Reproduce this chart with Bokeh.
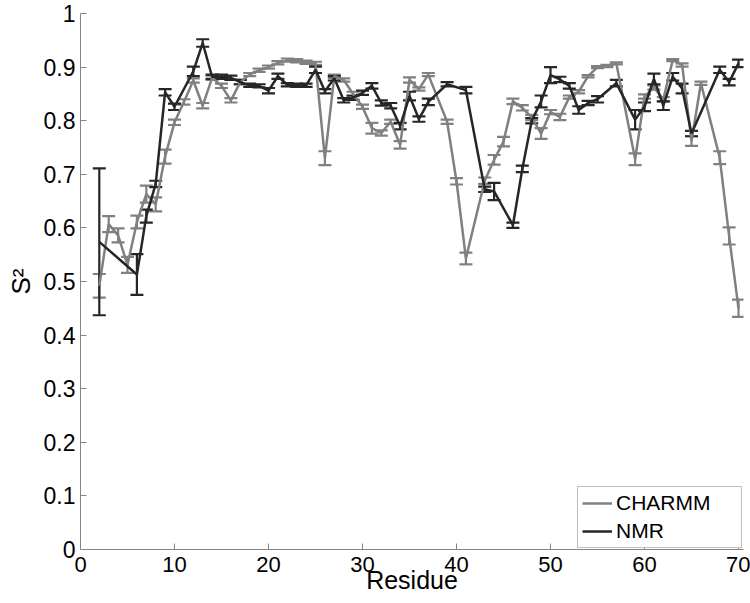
from bokeh.plotting import figure
from bokeh.models import (Range1d, FixedTicker, CustomJSTickFormatter, Whisker,
                          TeeHead, ColumnDataSource)
from bokeh.embed import file_html
from bokeh.resources import INLINE

# ---------------- data ----------------
charmm_res = [2, 3, 4, 5, 6, 7, 8, 9, 10, 11, 12, 13, 14, 15, 16, 17, 18, 19, 20,
              21, 22, 23, 24, 25, 26, 27, 28, 29, 30, 31, 32, 33, 34, 35, 36, 37,
              39, 40, 41, 43, 44, 45, 46, 47, 48, 49, 50, 51, 52, 53, 54, 55, 56,
              57, 59, 60, 61, 62, 63, 64, 65, 66, 68, 69, 70]
charmm_s2 = [0.492, 0.607, 0.586, 0.531, 0.611, 0.663, 0.644, 0.733, 0.797, 0.835,
             0.875, 0.828, 0.880, 0.865, 0.838, 0.872, 0.886, 0.894, 0.900,
             0.908, 0.913, 0.912, 0.909, 0.907, 0.730, 0.883, 0.876, 0.850, 0.826,
             0.786, 0.777, 0.798, 0.755, 0.876, 0.859, 0.886,
             0.798, 0.687, 0.543, 0.688, 0.727, 0.761, 0.836, 0.824, 0.806, 0.776,
             0.816, 0.807, 0.844, 0.854, 0.883, 0.900, 0.902,
             0.907, 0.728, 0.845, 0.862, 0.840, 0.913, 0.904, 0.762, 0.870, 0.731,
             0.585, 0.450]
charmm_err = [0.022, 0.015, 0.013, 0.015, 0.012, 0.016, 0.013, 0.013, 0.005, 0.005,
              0.004, 0.005, 0.004, 0.004, 0.004, 0.004, 0.003, 0.003, 0.003,
              0.003, 0.003, 0.003, 0.003, 0.003, 0.013, 0.003, 0.003, 0.004, 0.004,
              0.010, 0.005, 0.004, 0.007, 0.005, 0.003, 0.003,
              0.004, 0.006, 0.011, 0.006, 0.009, 0.009, 0.005, 0.005, 0.005, 0.010,
              0.004, 0.006, 0.003, 0.003, 0.002, 0.002, 0.002,
              0.002, 0.011, 0.004, 0.004, 0.004, 0.002, 0.003, 0.009, 0.003, 0.012,
              0.016, 0.016]

nmr_res = [2, 6, 7, 8, 9, 10, 12, 13, 14, 15, 16, 17, 18, 19, 20, 21, 22, 23, 24,
           25, 26, 27, 28, 29, 30, 31, 32, 33, 34, 35, 36, 37, 39, 41, 43, 44, 46,
           47, 48, 49, 50, 51, 52, 53, 54, 55, 57, 59, 60, 61, 62, 63, 64, 65, 68,
           69, 70]
nmr_s2 = [0.574, 0.513, 0.622, 0.682, 0.853, 0.826, 0.892, 0.945, 0.882, 0.882,
          0.880, 0.872, 0.866, 0.865, 0.856, 0.883, 0.867, 0.866, 0.866,
          0.895, 0.855, 0.879, 0.838, 0.843, 0.852, 0.865, 0.833, 0.828, 0.790,
          0.846, 0.803, 0.835, 0.868, 0.857, 0.672, 0.668, 0.605,
          0.710, 0.800, 0.836, 0.885, 0.877, 0.865, 0.820, 0.833, 0.840, 0.870,
          0.802, 0.826, 0.878, 0.828, 0.882, 0.860, 0.776, 0.895, 0.872, 0.907]
nmr_err = [0.137, 0.038, 0.012, 0.006, 0.006, 0.006, 0.009, 0.007, 0.004, 0.004,
           0.004, 0.004, 0.003, 0.003, 0.005, 0.005, 0.003, 0.003, 0.003,
           0.006, 0.004, 0.004, 0.004, 0.004, 0.004, 0.005, 0.005, 0.005, 0.006,
           0.008, 0.005, 0.006, 0.004, 0.006, 0.005, 0.016, 0.005,
           0.006, 0.005, 0.011, 0.015, 0.005, 0.005, 0.007, 0.004, 0.006, 0.006,
           0.018, 0.008, 0.010, 0.008, 0.007, 0.009, 0.005, 0.006, 0.006, 0.007]

x_ticks = [0, 10, 20, 30, 40, 50, 60, 70]
y_ticks = [0, 0.1, 0.2, 0.3, 0.4, 0.5, 0.6, 0.7, 0.8, 0.9, 1]
x_title = "Residue"
y_title = "S\u00b2"

series_names = ["CHARMM", "NMR"]
series_colors = ["#808080", "#262626"]

FONT = "Liberation Sans"

p = figure(width=750, height=600, output_backend="svg", toolbar_location=None,
           x_range=Range1d(0, 70.53), y_range=Range1d(0, 1),
           min_border_left=80, min_border_right=7, min_border_top=13,
           min_border_bottom=51)
p.grid.visible = False
p.outline_line_color = None
p.background_fill_color = "white"
p.border_fill_color = "white"

for ax in (p.xaxis[0], p.yaxis[0]):
    ax.axis_line_color = "#858585"
    ax.axis_line_width = 1
    ax.major_tick_line_color = "#858585"
    ax.major_tick_in = 6
    ax.major_tick_out = 0
    ax.minor_tick_line_color = None
    ax.major_label_text_font = FONT
    ax.major_label_text_color = "black"
    ax.axis_label_text_font = FONT
    ax.axis_label_text_font_style = "normal"
    ax.axis_label_text_color = "black"

p.xaxis.major_label_text_font_size = "22px"
p.yaxis.major_label_text_font_size = "23px"
p.xaxis.axis_label_text_font_size = "25px"
p.yaxis.axis_label_text_font_size = "26px"
p.xaxis.ticker = FixedTicker(ticks=x_ticks)
p.yaxis.ticker = FixedTicker(ticks=y_ticks)
p.yaxis.formatter = CustomJSTickFormatter(
    code="var s = tick.toFixed(1); return s.endsWith('.0') ? s.slice(0, -2) : s;")
p.xaxis.axis_label = x_title
p.yaxis.axis_label = y_title
p.xaxis.major_label_standoff = 7
p.xaxis.axis_label_standoff = -9
p.yaxis.major_label_standoff = 5
p.yaxis.axis_label_standoff = 5

datasets = [(charmm_res, charmm_s2, charmm_err), (nmr_res, nmr_s2, nmr_err)]
for (res, s2, err), name, col in zip(datasets, series_names, series_colors):
    src = ColumnDataSource(dict(x=res, y=s2,
                                lo=[v - e for v, e in zip(s2, err)],
                                hi=[v + e for v, e in zip(s2, err)]))
    p.line("x", "y", source=src, line_color=col, line_width=2.5,
           legend_label=name)
    w = Whisker(source=src, base="x", upper="hi", lower="lo",
                line_color=col, line_width=2.2,
                upper_head=TeeHead(size=13, line_color=col, line_width=2.2),
                lower_head=TeeHead(size=13, line_color=col, line_width=2.2))
    p.add_layout(w)

lg = p.legend[0]
lg.location = "bottom_right"
lg.margin = 1
lg.padding = 4
lg.spacing = 4
lg.label_height = 18
lg.glyph_height = 18
lg.glyph_width = 30
lg.label_standoff = 4
lg.label_width = 121
lg.label_text_font = FONT
lg.label_text_font_size = "21px"
lg.label_text_color = "black"
lg.border_line_color = "#808080"
lg.border_line_width = 1
lg.background_fill_color = "white"
lg.background_fill_alpha = 1.0

open("out.html", "w").write(file_html(p, INLINE))
